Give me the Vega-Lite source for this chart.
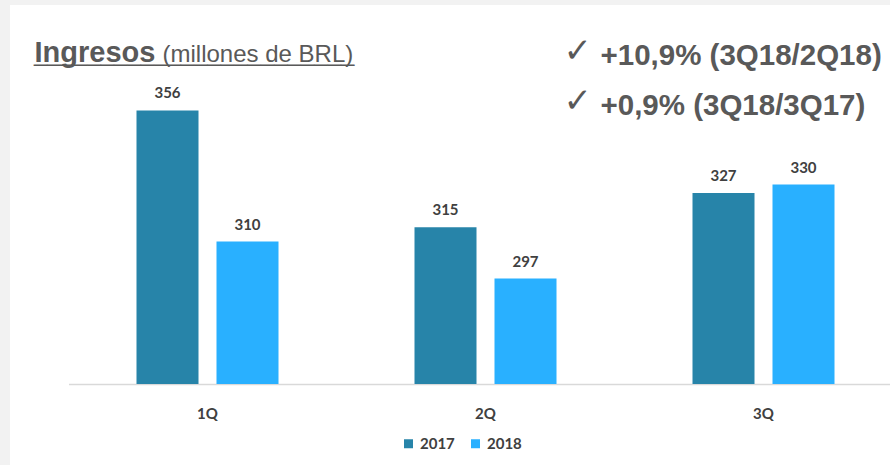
{
  "$schema": "https://vega.github.io/schema/vega-lite/v6.json",
  "width": 880,
  "height": 460,
  "autosize": {"type": "none"},
  "padding": {"left": 10, "top": 5, "right": 0, "bottom": 0},
  "background": "#f2f2f2",
  "config": {"view": {"fill": "#ffffff", "stroke": null}},
  "title": {
    "text": "________________________",
    "anchor": "start",
    "frame": "group",
    "orient": "top",
    "offset": 0,
    "dx": 24,
    "dy": 80,
    "baseline": "alphabetic",
    "font": "Liberation Sans",
    "fontSize": 24,
    "fontWeight": "normal",
    "color": "#595959"
  },
  "data": {
    "values": [
      {"q": "1Q", "year": "2017", "value": 356},
      {"q": "1Q", "year": "2018", "value": 310},
      {"q": "2Q", "year": "2017", "value": 315},
      {"q": "2Q", "year": "2018", "value": 297},
      {"q": "3Q", "year": "2017", "value": 327},
      {"q": "3Q", "year": "2018", "value": 330}
    ]
  },
  "encoding": {
    "x": {
      "field": "q",
      "type": "nominal",
      "sort": ["1Q", "2Q", "3Q"],
      "scale": {"range": [58.5, 892.5], "paddingInner": 0, "paddingOuter": 0}
    },
    "xOffset": {
      "field": "year",
      "type": "nominal",
      "scale": {"paddingInner": 0.225, "paddingOuter": 0.85}
    },
    "y": {
      "field": "value",
      "type": "quantitative",
      "scale": {"domain": [231.6, 393.0], "zero": false, "nice": false}
    }
  },
  "layer": [
    {
      "mark": {"type": "bar"},
      "encoding": {
        "y2": {"datum": 260},
        "color": {
          "field": "year",
          "type": "nominal",
          "scale": {"domain": ["2017", "2018"], "range": ["#2784A9", "#29B0FF"]},
          "legend": {
            "orient": "none",
            "legendX": 391,
            "legendY": 431,
            "direction": "horizontal",
            "title": null,
            "symbolType": "square",
            "symbolSize": 81,
            "symbolStrokeWidth": 0,
            "labelFont": "Lato",
            "labelFontWeight": "bold",
            "labelFontSize": 15,
            "labelColor": "#404040",
            "labelOffset": 4,
            "columnPadding": 13
          }
        },
        "x": {
          "field": "q",
          "type": "nominal",
          "sort": ["1Q", "2Q", "3Q"],
          "axis": {
            "orient": "bottom",
            "offset": -81,
            "ticks": false,
            "domainColor": "#d9d9d9",
            "domainWidth": 1.5,
            "labelAngle": 0,
            "labelFont": "Lato",
            "labelFontWeight": "bold",
            "labelFontSize": 15,
            "labelColor": "#404040",
            "labelPadding": 22,
            "title": ["✓", "✓"],
            "titleX": 553,
            "titleY": -323,
            "titleAlign": "left",
            "titleAnchor": null,
            "titleBaseline": "alphabetic",
            "titleLineHeight": 50,
            "titleFont": "DejaVu Sans",
            "titleFontWeight": "normal",
            "titleFontSize": 34,
            "titleColor": "#595959"
          }
        },
        "y": {
          "field": "value",
          "type": "quantitative",
          "axis": {
            "orient": "left",
            "labels": false,
            "ticks": false,
            "domain": false,
            "grid": false,
            "title": "Ingresos",
            "titleAngle": 0,
            "titleX": 24,
            "titleY": 56,
            "titleAlign": "left",
            "titleBaseline": "alphabetic",
            "titleFont": "Liberation Sans",
            "titleFontWeight": "bold",
            "titleFontSize": 29,
            "titleColor": "#595959"
          }
        }
      }
    },
    {
      "mark": {
        "type": "text",
        "baseline": "alphabetic",
        "dy": -12,
        "font": "Lato",
        "fontWeight": "bold",
        "fontSize": 15,
        "color": "#404040"
      },
      "encoding": {
        "text": {"field": "value", "type": "quantitative"},
        "x": {
          "field": "q",
          "type": "nominal",
          "sort": ["1Q", "2Q", "3Q"],
          "axis": {
            "orient": "top",
            "labels": false,
            "ticks": false,
            "domain": false,
            "title": "(millones de BRL)",
            "titleX": 152,
            "titleY": 56,
            "titleAlign": "left",
            "titleAnchor": null,
            "titleBaseline": "alphabetic",
            "titleFont": "Liberation Sans",
            "titleFontWeight": "normal",
            "titleFontSize": 24,
            "titleColor": "#595959"
          }
        },
        "y": {
          "field": "value",
          "type": "quantitative",
          "axis": {
            "orient": "right",
            "labels": false,
            "ticks": false,
            "domain": false,
            "grid": false,
            "title": ["+10,9% (3Q18/2Q18)", "+0,9% (3Q18/3Q17)"],
            "titleAngle": 0,
            "titleX": -290,
            "titleY": 59,
            "titleAlign": "left",
            "titleBaseline": "alphabetic",
            "titleLineHeight": 50,
            "titleFont": "Liberation Sans",
            "titleFontWeight": "bold",
            "titleFontSize": 29.5,
            "titleColor": "#595959"
          }
        }
      }
    }
  ],
  "resolve": {"axis": {"x": "independent", "y": "independent"}}
}
